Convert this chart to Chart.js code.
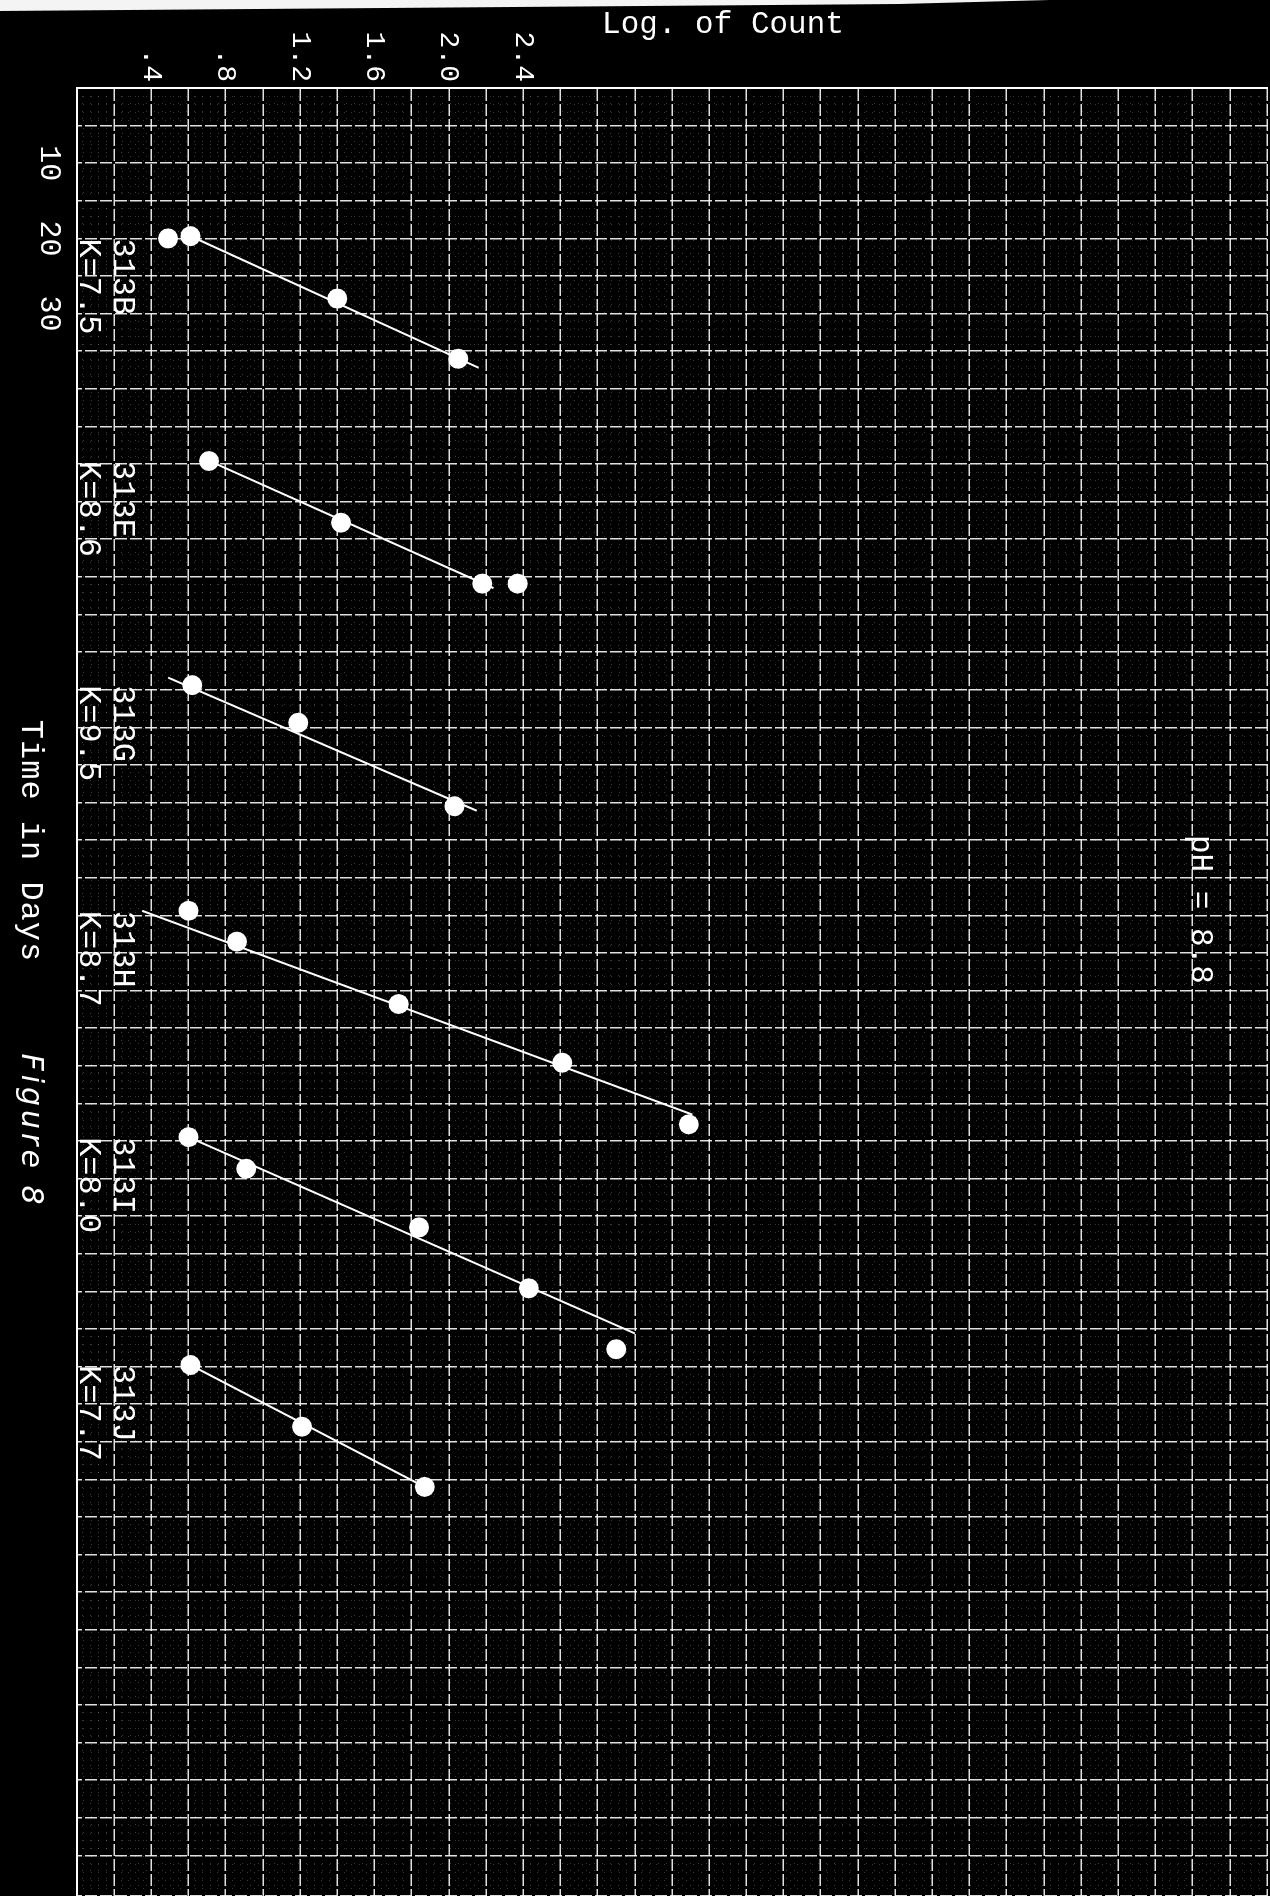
<!DOCTYPE html>
<html>
<head>
<meta charset="utf-8">
<title>Figure 8 - Log. of Count against Time in Days, pH = 8.8</title>
<script src="https://cdn.jsdelivr.net/npm/chart.js@4/dist/chart.umd.min.js"></script>
<style>
	html, body { margin: 0; padding: 0; background: #000; overflow: hidden; }
	#page { position: relative; width: 1270px; height: 1896px; overflow: hidden; background: #000; }
	/* the sheet is typed sideways: draw it flat, then turn it a quarter clockwise */
	#sheet { position: absolute; left: 0; top: 0; width: 1896px; height: 1270px;
		transform-origin: 0 0; transform: translate(1270px, 0) rotate(90deg); }
</style>
</head>
<body>
<div id="page"><div id="sheet"><canvas id="myChart" width="1896" height="1270" style="width:1896px;height:1270px"></canvas></div></div>
<script>

const SERIES = ["313B", "313E", "313G", "313H", "313I", "313J"];
const K_LABELS = ["K=7.5", "K=8.6", "K=9.5", "K=8.7", "K=8.0", "K=7.7"];

// plotted counts: time in days, log of count
const days313B = [20.0, 19.7, 28.0, 36.0];
const logs313B = [0.49, 0.61, 1.40, 2.05];
const days313E = [49.6, 57.8, 65.9, 65.9];
const logs313E = [0.71, 1.42, 2.18, 2.37];
const days313G = [79.4, 84.4, 95.5];
const logs313G = [0.62, 1.19, 2.03];
const days313H = [109.4, 113.5, 121.8, 129.6, 137.8];
const logs313H = [0.60, 0.86, 1.73, 2.61, 3.29];
const days313I = [139.5, 143.7, 151.5, 159.6, 167.7];
const logs313I = [0.60, 0.91, 1.84, 2.43, 2.90];
const days313J = [169.8, 178.0, 186.0];
const logs313J = [0.61, 1.21, 1.87];

// ruled lines, both ends
const fitDays313B = [19.8, 37.2];
const fitLogs313B = [0.62, 2.16];
const fitDays313E = [49.9, 66.5];
const fitLogs313E = [0.74, 2.24];
const fitDays313G = [78.4, 96.1];
const fitLogs313G = [0.49, 2.15];
const fitDays313H = [109.4, 136.5];
const fitLogs313H = [0.35, 3.31];
const fitDays313I = [139.5, 165.6];
const fitLogs313I = [0.60, 3.00];
const fitDays313J = [169.8, 186.4];
const fitLogs313J = [0.61, 1.90];

const DAY_TICKS = [10, 20, 30];
const LOG_TICKS = [0.4, 0.8, 1.2, 1.6, 2.0, 2.4];
const LOG_TICK_LABELS = [".4", ".8", "1.2", "1.6", "2.0", "2.4"];

const MONO = '"Liberation Mono", "DejaVu Sans Mono", monospace';
const WHITE = "#ffffff";
const GRID_COLOR = "rgba(255,255,255,0.88)";


const pointSets = [
	[days313B, logs313B], [days313E, logs313E], [days313G, logs313G],
	[days313H, logs313H], [days313I, logs313I], [days313J, logs313J]
];
const fitSets = [
	[fitDays313B, fitLogs313B], [fitDays313E, fitLogs313E], [fitDays313G, fitLogs313G],
	[fitDays313H, fitLogs313H], [fitDays313I, fitLogs313I], [fitDays313J, fitLogs313J]
];

function toXY(days, logs) {
	return days.map((d, i) => ({ x: d, y: logs[i] }));
}

const datasets = [];
SERIES.forEach((name, i) => {
	datasets.push({
		label: name + " fit",
		data: toXY(fitSets[i][0], fitSets[i][1]),
		showLine: true,
		borderColor: WHITE,
		borderWidth: 2,
		pointRadius: 0
	});
	datasets.push({
		label: name,
		data: toXY(pointSets[i][0], pointSets[i][1]),
		showLine: false,
		backgroundColor: WHITE,
		borderWidth: 0,
		pointRadius: 10
	});
});


// black sheet and the pale scan edge along the top
const paper = {
	id: "paper",
	beforeDraw(chart) {
		const ctx = chart.ctx;
		ctx.save();
		ctx.fillStyle = "#000";
		ctx.fillRect(0, 0, chart.width, chart.height);
		ctx.fillStyle = "#f4f4f4";
		ctx.beginPath();
		ctx.moveTo(0, 1270);
		ctx.lineTo(0, 220);
		ctx.lineTo(4, 370);
		ctx.lineTo(11, 1270);
		ctx.closePath();
		ctx.fill();
		ctx.restore();
	}
};

// faint dotted fifths inside each square of the graph paper
const minorGrid = {
	id: "minorGrid",
	beforeDatasetsDraw(chart) {
		const { ctx, chartArea: a, scales } = chart;
		ctx.save();
		ctx.strokeStyle = "rgba(255,255,255,0.22)";
		ctx.lineWidth = 1;
		ctx.setLineDash([1, 7]);
		ctx.beginPath();
		for (let d = 1; d < scales.x.max; d++) {
			if (d % 5 === 0) continue;
			const px = Math.round(scales.x.getPixelForValue(d)) + 0.5;
			ctx.moveTo(px, a.top);
			ctx.lineTo(px, a.bottom);
		}
		for (let k = 1; k * 0.04 < scales.y.max; k++) {
			if (k % 5 === 0) continue;
			const py = Math.round(scales.y.getPixelForValue(k * 0.04)) + 0.5;
			ctx.moveTo(a.left, py);
			ctx.lineTo(a.right, py);
		}
		ctx.stroke();
		ctx.restore();
	}
};

// typed notes: run numbers, K values, titles
const typedNotes = {
	id: "typedNotes",
	afterDatasetsDraw(chart) {
		const { ctx, scales } = chart;
		ctx.save();
		ctx.fillStyle = WHITE;
		ctx.textBaseline = "middle";
		ctx.textAlign = "left";
		ctx.font = "32px " + MONO;
		SERIES.forEach((name, i) => {
			const px = scales.x.getPixelForValue(pointSets[i][0][0]);
			ctx.fillText(name, px, scales.y.getPixelForValue(0.245));
			ctx.fillText(K_LABELS[i], px, scales.y.getPixelForValue(0.062));
		});

		ctx.font = "31px " + MONO;
		ctx.fillText("pH = 8.8", 835, 70);

		ctx.textAlign = "center";
		ctx.font = "32px " + MONO;
		ctx.letterSpacing = "1px";
		ctx.fillText("Time in Days", 841, 1240);

		ctx.font = "italic 30px \"DejaVu Sans\"";
		ctx.letterSpacing = "4px";
		ctx.fillText("Figure 8", 1131, 1240);
		ctx.letterSpacing = "0px";

		ctx.translate(25, 547);
		ctx.rotate(-Math.PI / 2);
		ctx.font = "31px " + MONO;
		ctx.fillText("Log. of Count", 0, 0);
		ctx.restore();
	}
};


new Chart("myChart", {
	type: "scatter",
	data: { datasets: datasets },
	options: {
		responsive: false,
		animation: false,
		devicePixelRatio: 1,
		layout: { autoPadding: false, padding: { top: 3, right: 0, bottom: 0, left: 0 } },
		plugins: {
			legend: { display: false },
			tooltip: { enabled: false }
		},
		scales: {
			x: {
				type: "linear",
				position: "bottom",
				min: 0,
				max: 240.4,
				ticks: {
					stepSize: 5,
					autoSkip: false,
					maxRotation: 0,
					padding: 10,
					color: WHITE,
					font: { family: MONO, size: 30 },
					callback: (v) => {
						const r = Math.round(v);
						return Math.abs(v - r) < 1e-6 && DAY_TICKS.includes(r) ? String(r) : "";
					}
				},
				grid: { color: GRID_COLOR, lineWidth: 1.5, drawTicks: false },
				border: { display: true, color: WHITE, width: 2, dash: [12, 3] },
				afterFit: (scale) => {
					scale.height = 77;
					scale.paddingLeft = 0;
					scale.paddingRight = 0;
				}
			},
			y: {
				type: "linear",
				position: "left",
				min: 0,
				max: 6.4,
				ticks: {
					stepSize: 0.2,
					autoSkip: false,
					padding: 6,
					color: WHITE,
					font: { family: MONO, size: 28 },
					callback: (v) => {
						const idx = LOG_TICKS.findIndex((t) => Math.abs(t - v) < 1e-6);
						return idx >= 0 ? LOG_TICK_LABELS[idx] : "";
					}
				},
				grid: { color: GRID_COLOR, lineWidth: 1.5, drawTicks: false },
				border: { display: true, color: WHITE, width: 2, dash: [12, 3] },
				afterFit: (scale) => {
					scale.width = 88;
					scale.paddingTop = 0;
					scale.paddingBottom = 0;
				}
			}
		}
	},
	plugins: [paper, minorGrid, typedNotes]
});
</script>
</body>
</html>
